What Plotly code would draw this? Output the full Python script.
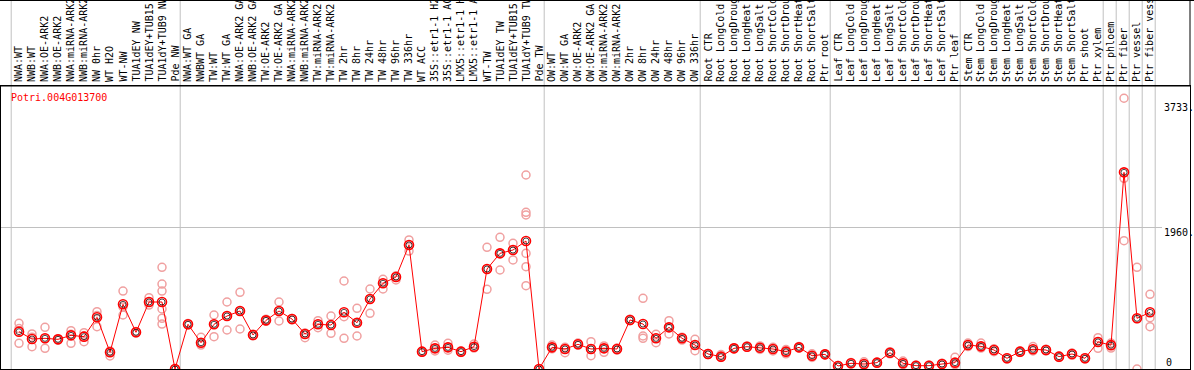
import plotly.graph_objects as go

categories = [
    "NWA:WT", "NWB:WT", "NWA:OE-ARK2", "NWB:OE-ARK2", "NWA:miRNA-ARK2", "NWB:miRNA-ARK2",
    "NW 0hr", "WT H2O", "WT-NW", "TUA1dEY NW", "TUA1dEY+TUB15 NW", "TUA1dY+TUB9 NW", "Pde NW",
    "NWA:WT GA", "NWBWT GA", "TW:WT", "TW:WT GA", "NWA:OE-ARK2 GA", "NWB:OE-ARK2 GA",
    "TW:OE-ARK2", "TW:OE-ARK2 GA", "NWA:miRNA-ARK2", "NWB:miRNA-ARK2", "TW:miRNA-ARK2",
    "TW:miRNA-ARK2", "TW 2hr", "TW 8hr", "TW 24hr", "TW 48hr", "TW 96hr", "TW 336hr",
    "WT ACC", "35S::etr1-1 H2O", "35S::etr1-1 ACC", "LMX5::etr1-1 H2O", "LMX5::etr1-1 ACC",
    "WT-TW", "TUA1dEY TW", "TUA1dEY+TUB15 TW", "TUA1dY+TUB9 TW", "Pde TW",
    "OW:WT", "OW:WT GA", "OW:OE-ARK2", "OW:OE-ARK2 GA", "OW:miRNA-ARK2", "OW:miRNA-ARK2",
    "OW 2hr", "OW 8hr", "OW 24hr", "OW 48hr", "OW 96hr", "OW 336hr",
    "Root CTR", "Root LongCold", "Root LongDrought", "Root LongHeat", "Root LongSalt",
    "Root ShortCold", "Root ShortDrought", "Root ShortHeat", "Root ShortSalt", "Ptr root",
    "Leaf CTR", "Leaf LongCold", "Leaf LongDrought", "Leaf LongHeat", "Leaf LongSalt",
    "Leaf ShortCold", "Leaf ShortDrought", "Leaf ShortHeat", "Leaf ShortSalt", "Ptr leaf",
    "Stem CTR", "Stem LongCold", "Stem LongDrought", "Stem LongHeat", "Stem LongSalt",
    "Stem ShortCold", "Stem ShortDrought", "Stem ShortHeat", "Stem ShortSalt", "Ptr shoot",
    "Ptr xylem", "Ptr phloem", "Ptr fiber", "Ptr vessel", "Ptr fiber vessel",
]

mean_values = [
    517, 415, 425, 411, 466, 448, 716, 231, 896, 508, 928, 928, 0,
    619, 364, 619, 734, 803, 471, 674, 803, 692, 485, 619, 609, 785, 641, 970, 1187, 1274, 1717,
    240, 286, 300, 240, 309, 1385, 1602, 1648, 1773, 0,
    300, 277, 342, 277, 286, 277, 679, 623, 425, 577, 425, 332,
    208, 171, 286, 309, 295, 277, 240, 300, 184, 203,
    42, 79, 69, 88, 226, 79, 46, 46, 69, 88,
    332, 314, 263, 148, 240, 273, 263, 171, 208, 148,
    375, 330, 2724, 702, 785,
]

replicates = [
    [633, 560, 356], [485, 309, 440], [577, 286, 425], [420, 400, 411], [531, 356, 480],
    [503, 378, 460], [794, 586, 740], [180, 231, 250], [1080, 748, 860], [520, 500, 508],
    [988, 886, 928], [1408, 1177, 1080, 831, 702, 623], [0, 0, 0],
    [630, 610, 619], [439, 332, 364], [748, 448, 619], [928, 540, 734], [1062, 554, 803],
    [480, 460, 471], [690, 660, 674], [928, 665, 803], [700, 680, 692], [434, 500, 485],
    [669, 572, 619], [734, 494, 609], [1219, 725, 425], [840, 457, 641], [1108, 771, 970],
    [1242, 1108, 1187], [1233, 1290, 1274], [1787, 1634, 1717],
    [240, 245, 235], [332, 250, 286], [356, 260, 300], [240, 250, 230], [346, 300, 290],
    [1685, 1104, 1385], [1824, 1371, 1602], [1741, 1510, 1648],
    [2687, 2170, 2133, 1602, 1417, 1154], [0, 0, 0],
    [332, 280, 300], [300, 226, 277], [360, 330, 342], [378, 184, 277], [320, 231, 286],
    [290, 260, 277], [690, 670, 679], [979, 457, 425], [480, 364, 425], [669, 485, 577],
    [440, 400, 425], [411, 254, 332],
    [215, 200, 208], [200, 160, 171], [295, 280, 286], [320, 300, 309], [320, 270, 295],
    [300, 250, 277], [270, 210, 240], [310, 290, 300], [210, 160, 184], [210, 195, 203],
    [50, 35, 42], [90, 70, 79], [100, 50, 69], [95, 80, 88], [240, 210, 226],
    [110, 60, 79], [55, 40, 46], [55, 40, 46], [80, 60, 69], [162, 60, 88],
    [360, 310, 332], [360, 290, 314], [250, 280, 240], [155, 140, 148], [250, 230, 240],
    [310, 250, 273], [275, 250, 263], [180, 160, 171], [220, 190, 208], [155, 140, 148],
    [434, 286, 378], [360, 290, 330], [3750, 2641, 1777], [1408, 0, 698], [1034, 711, 586],
]

group_starts = [0, 13, 41, 53, 63, 73, 84, 85, 86, 87, 88]
gene_id = "Potri.004G013700"
y_tick_values = [3733, 1960, 0]
y_tick_labels = ["3733.", "1960.", "0"]

W, H = 1194, 370
ML, MR, MT, MB = 1, 4, 86, 1
plot_h = H - MT - MB
plot_w = W - ML - MR
FONT = "DejaVu Sans Mono"

x_idx = list(range(len(categories)))
rep_x, rep_y = [], []
for i, reps in enumerate(replicates):
    for v in reps:
        rep_x.append(i)
        rep_y.append(v)

fig = go.Figure()
fig.add_trace(go.Scatter(
    x=rep_x, y=rep_y, mode="markers",
    marker=dict(symbol="circle-open", size=8, color="#f0a0a0", line=dict(width=1.5)),
    cliponaxis=False, hoverinfo="skip", showlegend=False))
fig.add_trace(go.Scatter(
    x=x_idx, y=mean_values, mode="lines+markers",
    line=dict(color="#ff0000", width=1),
    marker=dict(symbol="circle-open", size=9, color="#ff0000", line=dict(width=1.6)),
    cliponaxis=False, showlegend=False))
fig.add_trace(go.Scatter(
    x=x_idx, y=mean_values, mode="markers",
    marker=dict(symbol="circle-open", size=6, color="#000000", line=dict(width=0.7)),
    cliponaxis=False, hoverinfo="skip", showlegend=False))

x_left = (ML - 19) / 13
x_right = (W - MR - 19) / 13
y_top = plot_h / 0.0722

shapes = []
for s in group_starts:
    shapes.append(dict(type="line", xref="x", yref="paper", x0=s - 0.6, x1=s - 0.6,
                       y0=0, y1=(H - MB) / plot_h + 0.01, line=dict(color="#c0c0c0", width=1),
                       layer="below"))
shapes.append(dict(type="line", xref="paper", yref="y", x0=0, x1=(1162 - ML) / plot_w,
                   y0=1960, y1=1960, line=dict(color="#c0c0c0", width=1), layer="below"))
shapes.append(dict(type="line", xref="paper", yref="paper", x0=-0.01, x1=1.01,
                   y0=(H - MB - 0.5) / plot_h, y1=(H - MB - 0.5) / plot_h,
                   line=dict(color="black", width=1)))
shapes.append(dict(type="line", xref="paper", yref="paper", x0=1, x1=1,
                   y0=1, y1=(H - MB) / plot_h + 0.01, line=dict(color="black", width=1)))
shapes.append(dict(type="line", xref="paper", yref="paper", x0=-0.01, x1=1,
                   y0=1, y1=1, line=dict(color="black", width=1)))

annotations = []
label_bottom = (H - MB - 83) / plot_h
for i, c in enumerate(categories):
    annotations.append(dict(x=i, y=label_bottom, xref="x", yref="paper", text=c,
                            textangle=-90, xanchor="center", yanchor="bottom",
                            showarrow=False, font=dict(family=FONT, size=10, color="black"),
                            borderpad=0))
annotations.append(dict(x=(10 - ML) / plot_w, y=(H - MB - 97) / plot_h, xref="paper", yref="paper",
                        text=gene_id, xanchor="left", yanchor="middle", showarrow=False,
                        font=dict(family=FONT, size=10, color="#ff0000"), borderpad=0))
label_px_y = {3733: 107, 1960: 232, 0: 362}
label_px_x = {3733: 1163, 1960: 1163, 0: 1165}
for v, t in zip(y_tick_values, y_tick_labels):
    annotations.append(dict(x=(label_px_x[v] - ML) / plot_w, y=(H - MB - label_px_y[v]) / plot_h,
                            xref="paper", yref="paper", text=t, xanchor="left", yanchor="middle",
                            showarrow=False, font=dict(family=FONT, size=10, color="black"),
                            borderpad=0))

fig.update_layout(
    width=W, height=H, margin=dict(l=ML, r=MR, t=MT, b=MB),
    paper_bgcolor="white", plot_bgcolor="white",
    xaxis=dict(range=[x_left, x_right], showgrid=False, zeroline=False, showticklabels=False,
               ticks="", showline=True, linecolor="black", linewidth=1, mirror=True),
    yaxis=dict(range=[0, y_top], showgrid=False, zeroline=False, showticklabels=False,
               ticks="", showline=True, linecolor="black", linewidth=1, mirror=True),
    shapes=shapes, annotations=annotations, showlegend=False,
)
fig.write_html("out.html", config={"displayModeBar": False},
               post_script="document.body.style.margin='0';document.body.style.overflow='hidden';")
